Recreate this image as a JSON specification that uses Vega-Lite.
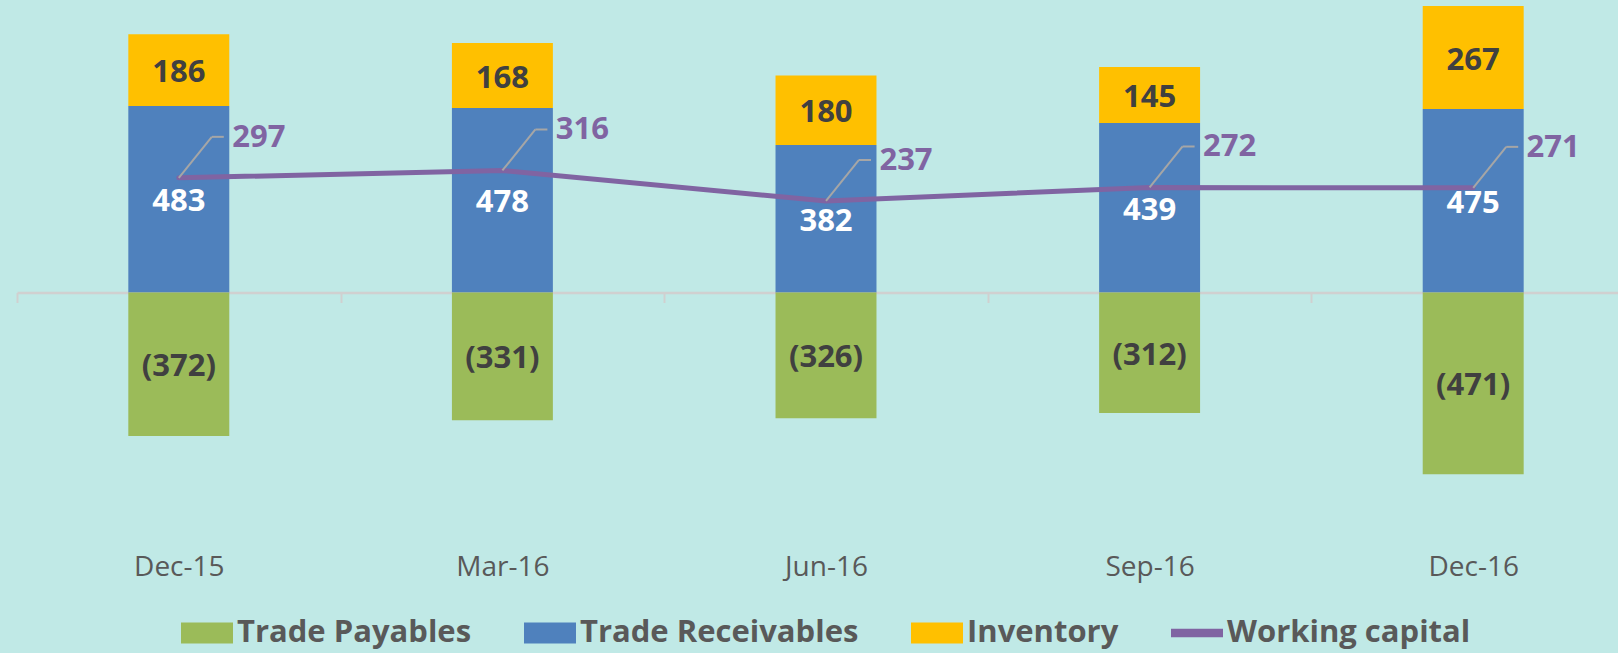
{
  "$schema": "https://vega.github.io/schema/vega-lite/v6.json",
  "width": 1601,
  "height": 585,
  "padding": {"left": 17, "top": 0, "right": 0, "bottom": 68},
  "autosize": {"type": "none"},
  "background": "#C0E9E6",
  "config": {"view": {"stroke": null}},
  "datasets": {
    "bars": [
      {"date": "Dec-15", "series": "Trade Receivables", "value": 483},
      {"date": "Dec-15", "series": "Inventory", "value": 186},
      {"date": "Dec-15", "series": "Trade Payables", "value": -372},
      {"date": "Mar-16", "series": "Trade Receivables", "value": 478},
      {"date": "Mar-16", "series": "Inventory", "value": 168},
      {"date": "Mar-16", "series": "Trade Payables", "value": -331},
      {"date": "Jun-16", "series": "Trade Receivables", "value": 382},
      {"date": "Jun-16", "series": "Inventory", "value": 180},
      {"date": "Jun-16", "series": "Trade Payables", "value": -326},
      {"date": "Sep-16", "series": "Trade Receivables", "value": 439},
      {"date": "Sep-16", "series": "Inventory", "value": 145},
      {"date": "Sep-16", "series": "Trade Payables", "value": -312},
      {"date": "Dec-16", "series": "Trade Receivables", "value": 475},
      {"date": "Dec-16", "series": "Inventory", "value": 267},
      {"date": "Dec-16", "series": "Trade Payables", "value": -471}
    ],
    "wc": [
      {"date": "Dec-15", "value": 297},
      {"date": "Mar-16", "value": 316},
      {"date": "Jun-16", "value": 237},
      {"date": "Sep-16", "value": 272},
      {"date": "Dec-16", "value": 271}
    ]
  },
  "encoding": {
    "x": {
      "field": "date",
      "type": "nominal",
      "title": null,
      "scale": {
        "domain": ["Dec-15", "Mar-16", "Jun-16", "Sep-16", "Dec-16"],
        "range": [0, 1618],
        "paddingInner": 0.688,
        "paddingOuter": 0.344
      },
      "axis": {
        "orient": "bottom",
        "offset": -292.5,
        "title": null,
        "domain": true,
        "ticks": true,
        "domainColor": "#D0D0D0",
        "domainWidth": 2.5,
        "tickColor": "#D0D0D0",
        "tickWidth": 2,
        "tickSize": 10,
        "bandPosition": 0,
        "tickOffset": -111.3,
        "labelOffset": 111.3,
        "labelFont": "Open Sans",
        "labelFontSize": 28,
        "labelColor": "#595959",
        "labelPadding": 273,
        "labelBaseline": "alphabetic",
        "labelAngle": 0,
        "zindex": 0
      }
    }
  },
  "layer": [
    {
      "data": {"name": "bars"},
      "transform": [
        {"stack": "value", "groupby": ["date"], "sort": [{"field": "series", "order": "descending"}], "as": ["v0", "v1"]}
      ],
      "mark": {"type": "bar"},
      "encoding": {
        "y": {"field": "v0", "type": "quantitative", "scale": {"domain": [-757.6, 757.6], "nice": false, "zero": false}, "axis": null},
        "y2": {"field": "v1"},
        "color": {
          "field": "series",
          "type": "nominal",
          "scale": {
            "domain": ["Trade Payables", "Trade Receivables", "Inventory", "Working capital"],
            "range": ["#9BBB59", "#4F81BD", "#FFC000", "#8064A2"]
          },
          "legend": {
            "orient": "none",
            "legendX": 164,
            "legendY": 607,
            "direction": "horizontal",
            "title": null,
            "padding": 0,
            "symbolSize": 2704,
            "symbolStrokeWidth": 0,
            "symbolOpacity": 1,
            "labelFont": "Open Sans",
            "labelFontSize": 31,
            "labelFontWeight": "bold",
            "labelColor": "#595959",
            "labelOffset": 4,
            "labelLimit": 0,
            "columnPadding": 52,
            "encode": {
              "symbols": {
                "update": {
                  "shape": {"signal": "datum.value === 'Working capital' ? 'M-1,-0.16H1V0.16H-1Z' : 'M-1,-0.4H1V0.4H-1Z'"}
                }
              }
            }
          }
        }
      }
    },
    {
      "data": {"name": "bars"},
      "transform": [
        {"stack": "value", "groupby": ["date"], "sort": [{"field": "series", "order": "descending"}], "as": ["v0", "v1"]},
        {"calculate": "(datum.v0 + datum.v1) / 2", "as": "mid"}
      ],
      "mark": {"type": "text", "font": "Open Sans", "fontSize": 31, "fontWeight": "bold", "align": "center", "baseline": "middle", "dy": 3},
      "encoding": {
        "y": {"field": "mid", "type": "quantitative", "axis": null},
        "text": {"field": "value", "type": "quantitative", "format": "(d"},
        "color": {
          "condition": {"test": "datum.series === 'Trade Receivables'", "value": "#FFFFFF"},
          "value": "#404040"
        }
      }
    },
    {
      "data": {"name": "wc"},
      "mark": {"type": "line", "color": "#8064A2", "strokeWidth": 5, "strokeCap": "round"},
      "encoding": {
        "y": {"field": "value", "type": "quantitative", "axis": null}
      }
    },
    {
      "data": {"name": "wc"},
      "mark": {"type": "rule", "color": "#A6A6A6", "strokeWidth": 2, "x2Offset": 33, "y2Offset": -41},
      "encoding": {
        "x2": {"field": "date"},
        "y": {"field": "value", "type": "quantitative", "axis": null},
        "y2": {"field": "value"}
      }
    },
    {
      "data": {"name": "wc"},
      "mark": {"type": "rule", "color": "#A6A6A6", "strokeWidth": 2, "xOffset": 33, "x2Offset": 45, "yOffset": -41, "y2Offset": -41},
      "encoding": {
        "x2": {"field": "date"},
        "y": {"field": "value", "type": "quantitative", "axis": null},
        "y2": {"field": "value"}
      }
    },
    {
      "data": {"name": "wc"},
      "mark": {"type": "text", "font": "Open Sans", "fontSize": 31, "fontWeight": "bold", "align": "center", "baseline": "middle", "color": "#8064A2", "dx": 80, "dy": -40},
      "encoding": {
        "y": {"field": "value", "type": "quantitative", "axis": null},
        "text": {"field": "value", "type": "quantitative", "format": "d"}
      }
    }
  ]
}
